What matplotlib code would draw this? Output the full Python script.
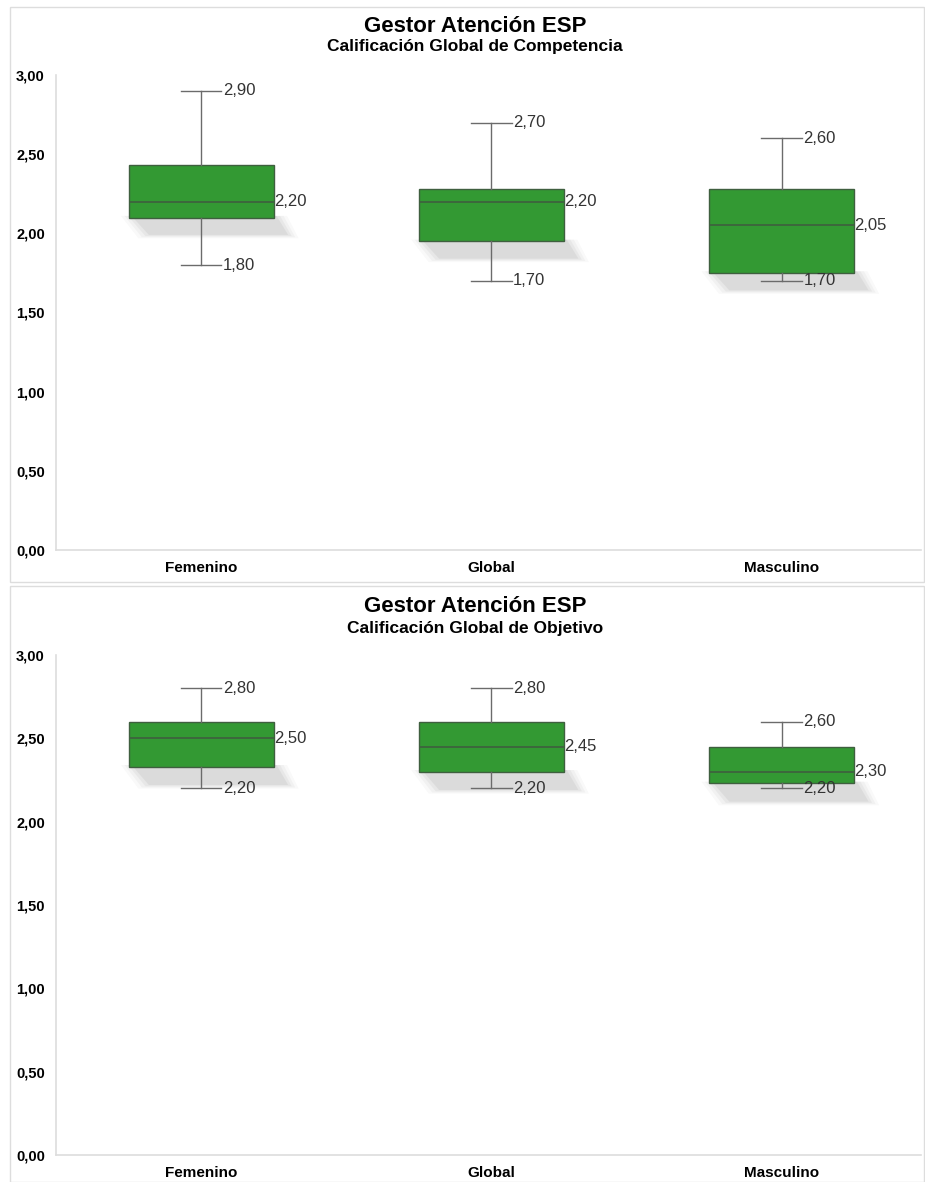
import matplotlib.pyplot as plt
from matplotlib.patches import Rectangle, Polygon

plt.rcParams['font.family'] = ['Liberation Sans', 'DejaVu Sans']

categorias = ['Femenino', 'Global', 'Masculino']
titulo = 'Gestor Atención ESP'
subtitulos = ['Calificación Global de Competencia', 'Calificación Global de Objetivo']

# competencia
comp_min = [1.80, 1.70, 1.70]
comp_q1 = [2.10, 1.95, 1.75]
comp_med = [2.20, 2.20, 2.05]
comp_q3 = [2.43, 2.28, 2.28]
comp_max = [2.90, 2.70, 2.60]

# objetivo
obj_min = [2.20, 2.20, 2.20]
obj_q1 = [2.33, 2.30, 2.23]
obj_med = [2.50, 2.45, 2.30]
obj_q3 = [2.60, 2.60, 2.45]
obj_max = [2.80, 2.80, 2.60]

yticks = [0, 0.5, 1.0, 1.5, 2.0, 2.5, 3.0]

verde = '#339933'
borde = '#3f5f3f'
gris = '#6b6b6b'


def fmt(v):
    return f'{v:.2f}'.replace('.', ',')


def dibujar(ax, mins, q1s, meds, q3s, maxs):
    stats = []
    for i, c in enumerate(categorias):
        stats.append({'label': c, 'whislo': mins[i], 'q1': q1s[i], 'med': meds[i],
                      'q3': q3s[i], 'whishi': maxs[i], 'fliers': []})
    pos = list(range(len(categorias)))

    # sombra difusa bajo cada caja
    for i in pos:
        for k, a in enumerate([0.05, 0.07, 0.09, 0.12]):
            d = 0.012 * (3 - k)
            x0, x1 = i - 0.22 - d, i + 0.30 + d
            top = q1s[i] + 0.01
            bot = q1s[i] - 0.11 - d * 0.6
            ax.add_patch(Polygon([(x0 - 0.02, top), (x1 - 0.04, top), (x1, bot), (x0 + 0.04, bot)],
                                 closed=True, facecolor='#8a8a8a', edgecolor='none', alpha=a, zorder=1))

    ax.bxp(stats, positions=pos, widths=0.5, capwidths=0.14, patch_artist=True,
           showfliers=False,
           boxprops=dict(facecolor=verde, edgecolor=borde, linewidth=1.0),
           medianprops=dict(color=borde, linewidth=1.2),
           whiskerprops=dict(color=gris, linewidth=1.0),
           capprops=dict(color=gris, linewidth=1.0))

    for i in pos:
        ax.text(i + 0.075, maxs[i], fmt(maxs[i]), fontsize=12, color='#333333',
                va='center', ha='left', zorder=5)
        ax.text(i + 0.075, mins[i], fmt(mins[i]), fontsize=12, color='#333333',
                va='center', ha='left', zorder=5)
        ax.text(i + 0.25, meds[i], fmt(meds[i]), fontsize=12, color='#333333',
                va='center', ha='left', zorder=5)

    ax.set_xlim(-0.5, 2.48)
    ax.set_ylim(0, 3)
    ax.set_yticks(yticks)
    ax.set_yticklabels([fmt(v) for v in yticks], fontsize=10.5, fontweight='bold')
    ax.set_xticks(pos)
    ax.set_xticklabels(categorias, fontsize=11, fontweight='bold')
    ax.tick_params(length=0, pad=8)
    ax.tick_params(axis='y', pad=8)
    for s in ['top', 'right']:
        ax.spines[s].set_visible(False)
    for s in ['left', 'bottom']:
        ax.spines[s].set_color('#dddddd')
        ax.spines[s].set_linewidth(1.2)


fig = plt.figure(figsize=(9.25, 11.82), dpi=100)

# marcos de cada panel
fig.patches.append(Rectangle((10 / 925, 1 - 582 / 1182), 914 / 925, 575 / 1182,
                             transform=fig.transFigure, fill=False, edgecolor='#dddddd', linewidth=1))
fig.patches.append(Rectangle((10 / 925, 0.0), 914 / 925, 1 - 586 / 1182,
                             transform=fig.transFigure, fill=False, edgecolor='#dddddd', linewidth=1))

ax1 = fig.add_axes([56 / 925, 1 - 550 / 1182, 0.935, 475 / 1182])
dibujar(ax1, comp_min, comp_q1, comp_med, comp_q3, comp_max)

ax2 = fig.add_axes([56 / 925, 1 - 1155 / 1182, 0.935, 500 / 1182])
dibujar(ax2, obj_min, obj_q1, obj_med, obj_q3, obj_max)

xc = 475 / 925
fig.text(xc, 1 - 26 / 1182, titulo, ha='center', va='center', fontsize=16, fontweight='bold')
fig.text(xc, 1 - 46 / 1182, subtitulos[0], ha='center', va='center', fontsize=12.5, fontweight='bold')
fig.text(xc, 1 - 607 / 1182, titulo, ha='center', va='center', fontsize=16, fontweight='bold')
fig.text(xc, 1 - 628 / 1182, subtitulos[1], ha='center', va='center', fontsize=12.5, fontweight='bold')

fig.savefig('out.png', dpi=100)
